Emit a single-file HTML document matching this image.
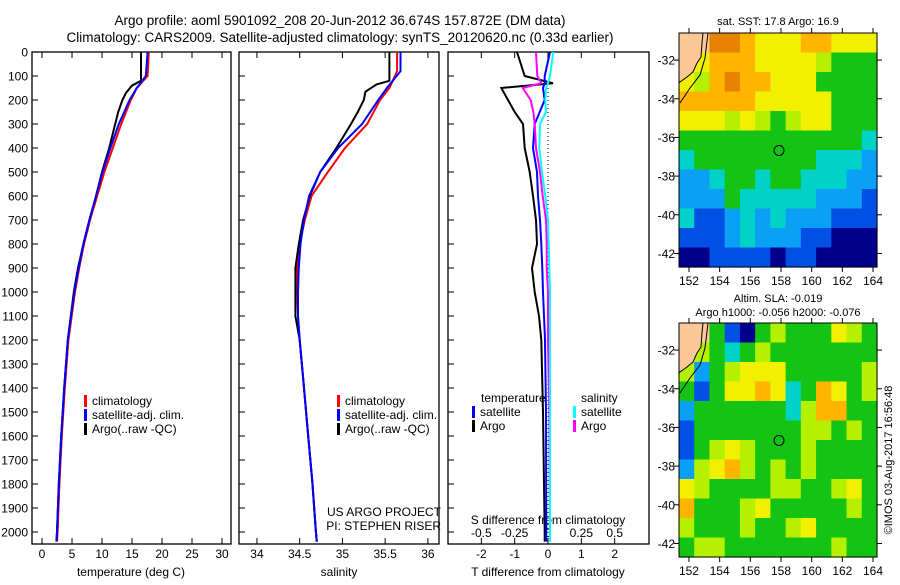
<!DOCTYPE html>
<html><head><meta charset="utf-8"><style>
body{margin:0;background:#fff;}
svg{font-family:"Liberation Sans",sans-serif;}
text{fill:#000;}
</style></head><body>
<svg id="c" width="900" height="580" xmlns="http://www.w3.org/2000/svg">
<text x="340" y="25" font-size="13.5" text-anchor="middle">Argo profile: aoml 5901092_208 20-Jun-2012 36.674S 157.872E (DM data)</text>
<text x="340" y="42" font-size="13.5" text-anchor="middle">Climatology: CARS2009. Satellite-adjusted climatology: synTS_20120620.nc (0.33d earlier)</text>
<g id="g"></g>
</svg>
<script>
// ---- data ----
const tDepth=[0,100,150,200,300,400,500,600,700,800,900,1000,1200,1400,1600,1800,2000,2040];
const tClim=[17.8,17.6,15.8,14.8,13.2,11.8,10.4,9.2,8.0,7.0,6.2,5.5,4.4,3.8,3.3,2.9,2.6,2.5];
const tSat=[17.6,17.3,15.8,14.6,12.8,11.4,10.1,9.0,7.9,6.9,6.1,5.4,4.3,3.7,3.2,2.8,2.5,2.4];
const aDepth=[0,120,140,170,200,250,300,400,500,600,700,800,900,1000,1200,1400,1600,1800,2000,2040];
const tArgo=[16.5,16.5,15.0,14.0,13.4,12.7,12.2,11.2,10.0,9.0,7.9,6.9,6.0,5.3,4.3,3.7,3.2,2.8,2.5,2.4];
const sDepth=[0,80,150,200,300,400,500,600,700,800,900,1000,1100,1200,1400,1600,1800,2000,2040];
const sClim=[35.64,35.64,35.55,35.44,35.29,35.03,34.83,34.64,34.56,34.50,34.47,34.47,34.48,34.50,34.55,34.60,34.65,34.69,34.70];
const sSat=[35.68,35.68,35.52,35.42,35.23,34.95,34.74,34.61,34.55,34.51,34.49,34.48,34.48,34.50,34.55,34.60,34.65,34.69,34.70];
const sArgoDepth=[0,120,135,165,200,250,300,400,500,600,700,800,900,1000,1100,1200,1400,1600,1800,2000,2040];
const sArgo=[35.55,35.55,35.4,35.27,35.25,35.18,35.1,34.93,34.74,34.62,34.54,34.49,34.45,34.45,34.45,34.5,34.55,34.6,34.65,34.69,34.7];
const dDepth=[0,100,130,150,200,250,300,400,500,600,700,800,900,1000,1100,1200,1500,2000,2040];
const dTArgo=[-0.93,-0.7,0.15,-1.4,-1.2,-1.0,-0.75,-0.7,-0.55,-0.45,-0.36,-0.33,-0.48,-0.4,-0.27,-0.2,-0.15,-0.1,-0.1];
const dTSat=[0.06,-0.1,-0.1,-0.15,-0.1,-0.25,-0.4,-0.45,-0.33,-0.3,-0.24,-0.2,-0.17,-0.15,-0.12,-0.09,-0.06,-0.05,-0.05];
const dSArgo=[-0.09,-0.08,-0.05,-0.19,-0.13,-0.11,-0.1,-0.09,-0.06,-0.04,-0.015,-0.01,-0.01,0,0,0,0.01,0.015,0.015];
const dSSat=[0.04,0.015,0.0,-0.015,-0.02,-0.015,-0.06,-0.065,-0.045,-0.02,0,0.005,0.01,0.015,0.015,0.015,0.015,0.015,0.015];
const depthTicks=[0,100,200,300,400,500,600,700,800,900,1000,1100,1200,1300,1400,1500,1600,1700,1800,1900,2000];
const tTicks=[0,5,10,15,20,25,30];
const sTicks=[34,34.5,35,35.5,36];
const dTTicks=[-2,-1,0,1,2];
const dSTicks=[-0.5,-0.25,0,0.25,0.5];
const lonTicks=[152,154,156,158,160,162,164];
const latTicks=[-32,-34,-36,-38,-40,-42];
const sstGrid=[
[-1,-1,8,8,7,6,6,6,7,7,6,6,6],
[-1,6,7,7,7,6,6,6,6,5,4,4,4],
[6,5,7,8,7,7,6,6,6,4,4,4,4],
[7,7,7,7,7,6,6,6,6,6,4,4,4],
[6,6,6,5,6,5,4,5,6,6,4,4,4],
[4,4,4,4,4,4,4,4,4,4,4,4,3],
[3,4,4,4,4,4,4,4,4,3,3,3,2],
[2,2,3,4,4,3,4,4,3,3,3,2,2],
[2,2,2,4,3,3,3,3,3,2,2,2,1],
[3,1,1,2,3,2,3,2,2,2,1,1,1],
[1,1,1,2,3,2,2,2,1,1,0,0,0],
[0,0,1,1,1,1,0,1,1,0,0,0,0]];
const slaGrid=[
[-1,-1,4,1,0,4,5,4,4,4,6,5,4],
[-1,5,4,3,4,5,4,4,4,4,4,4,4],
[5,2,4,5,6,6,6,4,4,4,4,4,5],
[4,1,4,6,6,7,6,3,4,7,6,4,5],
[2,4,4,4,4,4,4,3,5,7,7,4,4],
[1,4,4,4,4,4,4,4,5,5,4,5,4],
[1,4,5,6,5,4,4,4,5,4,4,4,4],
[2,5,6,7,5,4,5,4,5,4,4,4,4],
[6,5,4,4,4,4,5,5,4,4,5,6,4],
[7,4,4,4,5,6,4,4,4,4,4,5,4],
[5,4,4,4,5,4,4,5,6,4,4,4,4],
[4,5,5,4,4,4,4,4,4,4,5,4,4]];
const floatLon=157.872, floatLat=-36.674;

const palette=['#00008c','#0050e6','#0aa0f5','#00d2c8','#14c314','#b4f000','#f0f000','#ffb400','#e68200'];
const NS='http://www.w3.org/2000/svg';
const G=document.getElementById('g');
function mk(tag,attrs,parent){const e=document.createElementNS(NS,tag);for(const k in attrs)e.setAttribute(k,attrs[k]);(parent||G).appendChild(e);return e;}
function txt(x,y,s,size,anchor,parent){const e=mk('text',{x:x,y:y,'font-size':size,'text-anchor':anchor||'middle'},parent);e.textContent=s;return e;}

// ---- profile axes ----
const pTop=52, pBot=544;
const yD=d=>pTop+d*0.24;
const panels=[
 {x0:32,x1:231,min:-1.67,max:31.5,name:'temperature-panel'},
 {x0:239,x1:439,min:33.79,max:36.13,name:'salinity-panel'},
 {x0:448,x1:649,min:-3.0,max:3.03,name:'difference-panel'}];
function xs(p,v){return p.x0+(v-p.min)/(p.max-p.min)*(p.x1-p.x0);}
function line(p,depth,vals,color,w,name,fn){
  const pts=depth.map((d,i)=>xs(p,fn?fn(vals[i]):vals[i]).toFixed(1)+','+yD(d).toFixed(1)).join(' ');
  const e=mk('polyline',{points:pts,fill:'none',stroke:color,'stroke-width':w});
  
  
}
panels.forEach((p,i)=>{
  const f=mk('rect',{x:p.x0,y:pTop,width:p.x1-p.x0,height:pBot-pTop,fill:'none',stroke:'#000','stroke-width':1.3});
  
  
  depthTicks.forEach(d=>{
    mk('line',{x1:p.x0,x2:p.x0+6,y1:yD(d),y2:yD(d),stroke:'#000'});
    if(i==0){const t=txt(28,yD(d)+4.5,String(d),12,'end');}
  });
});
function xt(p,ticks,fmt,ly,topTicks){
  ticks.forEach(v=>{const x=xs(p,v);
    mk('line',{x1:x,x2:x,y1:pBot,y2:pBot-6,stroke:'#000'});
    if(topTicks)mk('line',{x1:x,x2:x,y1:pTop,y2:pTop+6,stroke:'#000'});
    if(ly){const t=txt(x,ly,fmt(v),12);}
  });
}
xt(panels[0],tTicks,v=>String(v),558,true);
xt(panels[1],sTicks,v=>String(v),558,true);
xt(panels[2],dTTicks,v=>String(v),558,true);
dSTicks.forEach(v=>{const x=xs(panels[2],v*4);const t=txt(x,537,v===0?'0':String(v),12);});
txt(131,576,'temperature (deg C)',12);
txt(339,576,'salinity',12);
txt(548,576,'T difference from climatology',12);
txt(548,524,'S difference from climatology',12);

line(panels[0],tDepth,tClim,'#f00',2,'temp-climatology-line');
line(panels[0],aDepth,tArgo,'#000',2,'temp-argo-line');
line(panels[0],tDepth,tSat,'#00f',2,'temp-satellite-line');
line(panels[1],sDepth,sClim,'#f00',2,'sal-climatology-line');
line(panels[1],sArgoDepth,sArgo,'#000',2,'sal-argo-line');
line(panels[1],sDepth,sSat,'#00f',2,'sal-satellite-line');
mk('line',{x1:548,x2:548,y1:yD(150),y2:pBot,stroke:'#000','stroke-dasharray':'1,3'});
line(panels[2],dDepth,dTArgo,'#000',2,'tdiff-argo-line');
line(panels[2],dDepth,dTSat,'#00f',2,'tdiff-satellite-line');
line(panels[2],dDepth,dSArgo,'#f0f',2,'sdiff-argo-line',v=>v*4);
line(panels[2],dDepth,dSSat,'#0ff',2,'sdiff-satellite-line',v=>v*4);

function leg(x,y,c,s,n){const g=mk('g',{});
  mk('rect',{x:x,y:y-10,width:3,height:12,fill:c},g);txt(x+8,y,s,12,'start',g);}
[[0,'climatology','#f00'],[1,'satellite-adj. clim.','#00f'],[2,'Argo(..raw -QC)','#000']].forEach(([i,s,c])=>{
  leg(84,405+i*14,c,s,'legend-temp-'+i);leg(337,405+i*14,c,s,'legend-sal-'+i);});
txt(481,402,'temperature',12,'start');txt(581,402,'salinity',12,'start');
leg(472,416,'#00f','satellite','legend-tdiff-satellite');leg(472,430,'#000','Argo','legend-tdiff-argo');
leg(573,416,'#0ff','satellite','legend-sdiff-satellite');leg(573,430,'#f0f','Argo','legend-sdiff-argo');
txt(441,516,'US ARGO PROJECT',12,'end');txt(441,530,'PI: STEPHEN RISER',12,'end');

// ---- maps ----
const mX0=679,mX1=877,lonMin=151.35,lonMax=164.26,latTop=-30.6,latBot=-42.7;
function mapPanel(y0,grid,name){
  const y1=y0+234;
  const lx=lon=>mX0+(lon-lonMin)/(lonMax-lonMin)*(mX1-mX0);
  const ly=lat=>y0+(latTop-lat)/(latTop-latBot)*(y1-y0);
  const g=mk('g',{});
  const rows=grid.length,cols=grid[0].length,cw=(mX1-mX0)/cols,ch=(y1-y0)/rows;
  grid.forEach((r,i)=>r.forEach((v,j)=>{
    const c=mk('rect',{x:mX0+j*cw,y:y0+i*ch,width:cw+0.6,height:ch+0.6,fill:v<0?'#fcc896':palette[v]},g);
    
    
  }));
  mk('polygon',{points:`${mX0},${y0} 703,${y0} 702,${y0+10} 701,${y0+24} 697,${y0+30} 693,${y0+39} 687,${y0+44} 680,${y0+49} ${mX0},${y0+50}`,fill:'#fcc896',stroke:'#000'},g);
  mk('polyline',{points:`708,${y0} 705,${y0+25} 700,${y0+42} 690,${y0+55} 680,${y0+70}`,fill:'none',stroke:'#000'},g);
  mk('rect',{x:mX0,y:y0,width:mX1-mX0,height:y1-y0,fill:'none',stroke:'#000'},g);
  const m=mk('circle',{cx:lx(floatLon),cy:ly(floatLat),r:5,fill:'none',stroke:'#000'},g);
  
  
  lonTicks.forEach(v=>{const x=lx(v);mk('line',{x1:x,x2:x,y1:y1,y2:y1+5,stroke:'#000'},g);mk('line',{x1:x,x2:x,y1:y0,y2:y0-5,stroke:'#000'},g);txt(x,y1+18,String(v),12,'middle',g);});
  latTicks.forEach(v=>{const y=ly(v);mk('line',{x1:mX0,x2:mX0-5,y1:y,y2:y,stroke:'#000'},g);mk('line',{x1:mX1,x2:mX1+5,y1:y,y2:y,stroke:'#000'},g);txt(675,y+4.5,String(v),12,'end',g);});
}
mapPanel(33,sstGrid,'sst-map');
mapPanel(323,slaGrid,'sla-map');
txt(778,25,'sat. SST: 17.8 Argo: 16.9',11,'middle');
txt(778,302,'Altim. SLA: -0.019',11,'middle');
txt(778,316,'Argo h1000: -0.056 h2000: -0.076',11,'middle');
const cr=txt(0,0,'©IMOS 03-Aug-2017 16:56:48',11,'middle');
cr.setAttribute('transform','translate(892,460) rotate(-90)');

</script>
</body></html>
